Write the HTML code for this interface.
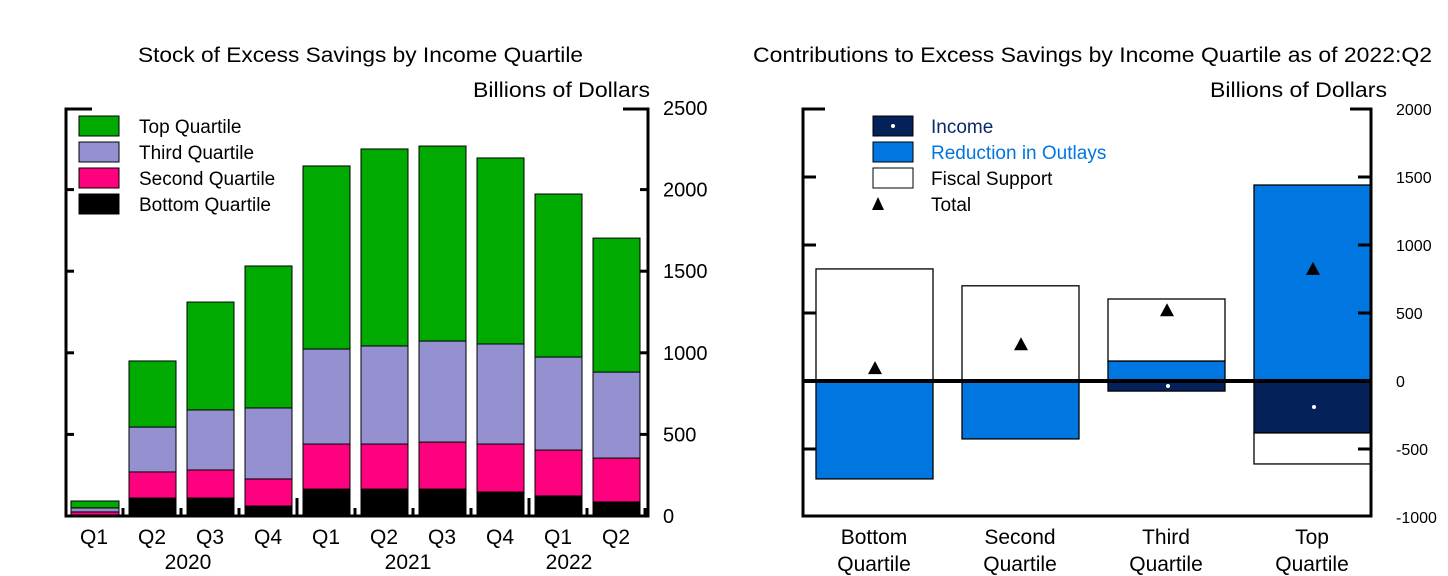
<!DOCTYPE html>
<html><head><meta charset="utf-8"><style>
body{margin:0;background:#fff}
svg{display:block;font-family:"Liberation Sans",sans-serif}
</style></head><body>
<svg id="c" width="1448" height="576" xmlns="http://www.w3.org/2000/svg">
<g id="left"></g>
<g id="right"></g>
</svg>
<script>
// Left chart data
const quarters = ["Q1","Q2","Q3","Q4","Q1","Q2","Q3","Q4","Q1","Q2",""];
const bottomQ = [5,110,110,61,165,165,165,147,123,86];
const secondQ = [20,160,172,166,276,276,288,294,281,269];
const thirdQ = [25,275,368,435,582,601,619,613,570,527];
const topQ = [42,405,661,870,1122,1207,1195,1140,999,821];
const leftTicks = [0,500,1000,1500,2000,2500];
const years = ["2020","2021","2022"];
// Right chart data
const groups = [["Bottom","Quartile"],["Second","Quartile"],["Third","Quartile"],["Top","Quartile"]];
const income = [0,0,-74,-382];
const outlays = [-720,-426,147,1441];
const fiscal = [824,700,456,-228];
const totals = [95,270,520,824];
const rightTicks = [-1000,-500,0,500,1000,1500,2000];

const NS="http://www.w3.org/2000/svg";
function mk(p,t,a,txt){const e=document.createElementNS(NS,t);for(const k in a)e.setAttribute(k,a[k]);if(txt!==undefined)e.textContent=txt;p.appendChild(e);return e;}

// ---- left
const L=document.getElementById('left');
const ly=v=>516-v*0.1632;
const lx=i=>71+i*58;
mk(L,'text',{x:138,y:62,'font-size':21,textLength:445,lengthAdjust:'spacingAndGlyphs',},'Stock of Excess Savings by Income Quartile');
mk(L,'text',{x:473,y:97,'font-size':21,textLength:177,lengthAdjust:'spacingAndGlyphs',},'Billions of Dollars');
const series=[[bottomQ,'#000'],[secondQ,'#ff007f'],[thirdQ,'#9590d0'],[topQ,'#00aa00']];
const snames=['bottom','second','third','top'];
for(let i=0;i<bottomQ.length;i++){
  let base=0;
  series.forEach(([arr,col],s)=>{
    const r=mk(L,'rect',{x:lx(i),y:ly(base+arr[i]),width:i==0?48:47,height:arr[i]*0.1632,fill:col,stroke:'#000','stroke-width':1});
    
    
    base+=arr[i];
  });
}
mk(L,'path',{d:'M92 109H66V516H648V109H623',fill:'none',stroke:'#000','stroke-width':3,});
leftTicks.forEach(t=>{
  if(t>0&&t<2500){mk(L,'line',{x1:66,x2:74,y1:ly(t),y2:ly(t),stroke:'#000','stroke-width':3});mk(L,'line',{x1:640,x2:648,y1:ly(t),y2:ly(t),stroke:'#000','stroke-width':3});}
  const tx=mk(L,'text',{x:663,y:ly(t)+7,'font-size':20},String(t));
  
  
});
for(let i=1;i<11;i++){
  const x=lx(i)-6, tall=(i==4||i==8);
  mk(L,'line',{x1:x,x2:x,y1:tall?498:508,y2:516,stroke:'#000','stroke-width':3});
}
quarters.forEach((q,i)=>{if(!q)return;
  const t=mk(L,'text',{x:lx(i)+23,y:544,'font-size':21,'text-anchor':'middle'},q);
  
  
});
[[188,0],[408,1],[569,2]].forEach(([x,k])=>{const t=mk(L,'text',{x:x,y:569,'font-size':21,'text-anchor':'middle'},years[k]);
  
  });
const lleg=[['Top Quartile','#00aa00'],['Third Quartile','#9590d0'],['Second Quartile','#ff007f'],['Bottom Quartile','#000']];
lleg.forEach(([n,c],i)=>{const y=116+i*26;
  const g=mk(L,'g',{});
  
  
  mk(g,'rect',{x:79,y:y,width:40,height:20,fill:c,stroke:'#000','stroke-width':1});
  mk(g,'text',{x:139,y:y+17,'font-size':19},n);
});

// ---- right
const R=document.getElementById('right');
const ry=v=>381-v*0.136;
const rx=i=>816+i*146;
mk(R,'text',{x:753,y:62,'font-size':21,textLength:679,lengthAdjust:'spacingAndGlyphs',},'Contributions to Excess Savings by Income Quartile as of 2022:Q2');
mk(R,'text',{x:1210,y:97,'font-size':21,textLength:177,lengthAdjust:'spacingAndGlyphs',},'Billions of Dollars');
const comps=[[income,'#04215a','income'],[outlays,'#0077e0','outlays'],[fiscal,'#ffffff','fiscal']];
for(let i=0;i<4;i++){
  let pos=0,neg=0;
  comps.forEach(([arr,col,nm])=>{
    const v=arr[i]; if(v===0)return;
    let y0,y1;
    if(v>0){y0=pos;y1=pos+v;pos=y1;}else{y0=neg;y1=neg+v;neg=y1;}
    const r=mk(R,'rect',{x:rx(i),y:ry(Math.max(y0,y1)),width:117,height:Math.abs(v)*0.136,fill:col,stroke:'#000','stroke-width':1.3});
    
    
    if(nm==='income'){mk(R,'circle',{cx:rx(i)+60,cy:ry((y0+y1)/2),r:2,fill:'#fff'});}
  });
  const tx=rx(i)+59,ty=ry(totals[i]);
  const tr=mk(R,'path',{d:`M${tx} ${ty-7}L${tx+7} ${ty+6}L${tx-7} ${ty+6}Z`,fill:'#000'});
  
  
  groups[i].forEach((w,k)=>{const t=mk(R,'text',{x:rx(i)+58,y:544+k*27,'font-size':21,'text-anchor':'middle'},w);
    
    });
}
mk(R,'line',{x1:803,x2:1371,y1:ry(0),y2:ry(0),stroke:'#000','stroke-width':4,});
mk(R,'path',{d:'M825 109H803V516H1371V109H1350',fill:'none',stroke:'#000','stroke-width':3,});
rightTicks.forEach(t=>{
  if(t>-1000&&t<2000){mk(R,'line',{x1:803,x2:816,y1:ry(t),y2:ry(t),stroke:'#000','stroke-width':3});mk(R,'line',{x1:1358,x2:1371,y1:ry(t),y2:ry(t),stroke:'#000','stroke-width':3});}
  const tx=mk(R,'text',{x:1396,y:ry(t)+6,'font-size':16},String(t));
  
  
});
const rleg=[['Income','#04215a','#0a2a6a'],['Reduction in Outlays','#0077e0','#0077e0'],['Fiscal Support','#fff','#000']];
rleg.forEach(([n,c,tc],i)=>{const y=116+i*26;
  const g=mk(R,'g',{});
  
  
  mk(g,'rect',{x:873,y:y,width:40,height:20,fill:c,stroke:'#000','stroke-width':1});
  if(i==0)mk(g,'circle',{cx:893,cy:126,r:2,fill:'#fff'});
  mk(g,'text',{x:931,y:y+17,'font-size':19,fill:tc},n);
});
const tg=mk(R,'g',{});


mk(tg,'path',{d:'M878 197L884 210L872 210Z',fill:'#000'});
mk(tg,'text',{x:931,y:211,'font-size':19},'Total');
</script>
</body></html>
